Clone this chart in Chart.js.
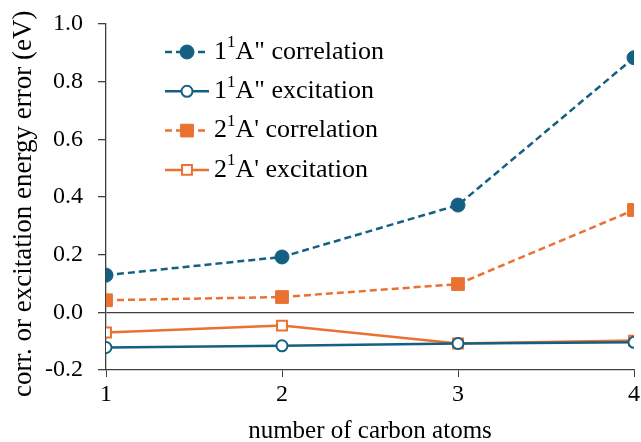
<!DOCTYPE html>
<html>
<head>
<meta charset="utf-8">
<script src="https://cdn.jsdelivr.net/npm/chart.js@4.4.1/dist/chart.umd.min.js"></script>
<style>
  html, body { margin: 0; padding: 0; background: #fff; }
  #wrap { width: 641px; height: 442px; }
</style>
</head>
<body>
<div id="wrap"><canvas id="myChart"></canvas></div>
<script>
// number of carbon atoms
var carbons = [1, 2, 3, 4];
// errors in eV
var corr1A2 = [0.129, 0.192, 0.372, 0.883];
var exc1A2  = [-0.122, -0.116, -0.108, -0.104];
var corr2A1 = [0.042, 0.053, 0.098, 0.355];
var exc2A1  = [-0.070, -0.046, -0.108, -0.098];
// legend labels: [number, superscript, rest]
var labels = [
  ['1', '1', 'A" correlation'],
  ['1', '1', 'A" excitation'],
  ['2', '1', "A' correlation"],
  ["2", '1', "A' excitation"]
];
var yTicks = [-0.2, 0, 0.2, 0.4, 0.6, 0.8, 1.0];

var BLUE = '#156082';
var ORANGE = '#E97132';
var FONT = '"Liberation Serif", "Times New Roman", serif';

function pts(ys) {
  return carbons.map(function (c, i) { return { x: c, y: ys[i] }; });
}

// legend drawn by hand so the superscripts and markers look like the original
const serifLegend = {
  id: 'serifLegend',
  afterDraw(chart) {
    var ctx = chart.ctx;
    chart.data.datasets.forEach(function (ds, i) {
      var y = 52 + i * 39.3;
      ctx.save();
      ctx.strokeStyle = ds.borderColor;
      ctx.lineWidth = ds.borderWidth;
      ctx.setLineDash(ds.borderDash || []);
      ctx.beginPath();
      ctx.moveTo(165, y);
      ctx.lineTo(209, y);
      ctx.stroke();
      ctx.setLineDash([]);
      var r = ds.pointRadius;
      ctx.fillStyle = ds.pointBackgroundColor;
      ctx.lineWidth = ds.pointBorderWidth;
      ctx.strokeStyle = ds.pointBorderColor;
      ctx.beginPath();
      if (ds.pointStyle === 'rect') {
        var s = r * Math.SQRT1_2;
        ctx.rect(187 - s, y - s, 2 * s, 2 * s);
      } else {
        ctx.arc(187, y, r, 0, Math.PI * 2);
      }
      ctx.fill();
      ctx.stroke();

      var parts = labels[i];
      ctx.fillStyle = '#000';
      ctx.textBaseline = 'middle';
      ctx.textAlign = 'left';
      var x = 214;
      ctx.font = '26px ' + FONT;
      ctx.fillText(parts[0], x, y);
      x += ctx.measureText(parts[0]).width;
      ctx.font = '17px ' + FONT;
      ctx.fillText(parts[1], x, y - 9);
      x += ctx.measureText(parts[1]).width;
      ctx.font = '26px ' + FONT;
      ctx.fillText(parts[2], x, y);
      ctx.restore();
    });
  }
};

var ctx = document.getElementById('myChart');
var myChart = new Chart(ctx, {
  type: 'line',
  data: {
    datasets: [
      {
        label: labels[0].join(''),
        data: pts(corr1A2),
        borderColor: BLUE,
        borderWidth: 2.5,
        borderDash: [7, 4],
        pointStyle: 'circle',
        pointRadius: 7,
        pointBackgroundColor: BLUE,
        pointBorderColor: BLUE,
        pointBorderWidth: 1,
        lineTension: 0
      }, // 1A" correlation
      {
        label: labels[1].join(''),
        data: pts(exc1A2),
        borderColor: BLUE,
        borderWidth: 2.5,
        pointStyle: 'circle',
        pointRadius: 5.5,
        pointBackgroundColor: '#fff',
        pointBorderColor: BLUE,
        pointBorderWidth: 2,
        lineTension: 0
      }, // 1A" excitation
      {
        label: labels[2].join(''),
        data: pts(corr2A1),
        borderColor: ORANGE,
        borderWidth: 2.5,
        borderDash: [7, 4],
        pointStyle: 'rect',
        pointRadius: 9,
        pointBackgroundColor: ORANGE,
        pointBorderColor: ORANGE,
        pointBorderWidth: 1,
        lineTension: 0
      }, // 2A' correlation
      {
        label: labels[3].join(''),
        data: pts(exc2A1),
        borderColor: ORANGE,
        borderWidth: 2.5,
        pointStyle: 'rect',
        pointRadius: 7,
        pointBackgroundColor: '#fff',
        pointBorderColor: ORANGE,
        pointBorderWidth: 2,
        lineTension: 0
      } // 2A' excitation
    ]
  },
  options: {
    responsive: true,
    maintainAspectRatio: false,
    animation: false,
    layout: { autoPadding: false, padding: { top: 24, right: 7, left: 0, bottom: 0 } },
    plugins: {
      legend: { display: false },
      tooltip: { enabled: false }
    },
    scales: {
      x: {
        type: 'linear',
        min: 1,
        max: 4,
        afterFit: function (s) { s.height = 72; },
        afterBuildTicks: function (s) { s.ticks = carbons.map(function (v) { return { value: v }; }); },
        grid: { drawOnChartArea: false, drawTicks: true, tickLength: 7, tickColor: '#404040' },
        border: { display: true, color: '#404040', width: 1.3 },
        ticks: { color: '#000', font: { family: FONT, size: 24, lineHeight: 1.5 }, padding: 0 },
        title: { display: true, text: 'number of carbon atoms', color: '#000', font: { family: FONT, size: 25 }, padding: { top: 0, bottom: -4 } }
      },
      y: {
        min: -0.2,
        max: 1.0,
        afterFit: function (s) { s.width = 106; s.paddingTop = 0; s.paddingBottom = 0; },
        afterBuildTicks: function (s) { s.ticks = yTicks.map(function (v) { return { value: v }; }); },
        grid: {
          drawOnChartArea: true,
          drawTicks: true,
          tickLength: 8,
          tickColor: '#404040',
          color: function (c) { return c.tick && c.tick.value === 0 ? '#404040' : 'rgba(0,0,0,0)'; },
          lineWidth: 1.3
        },
        border: { display: true, color: '#404040', width: 1.3 },
        ticks: {
          color: '#000',
          font: { family: FONT, size: 24 },
          padding: 15,
          callback: function (v) { return v.toFixed(1); }
        },
        title: { display: true, text: 'corr. or excitation energy error (eV)  ', color: '#000', font: { family: FONT, size: 27 }, padding: { top: 8, bottom: 0 } }
      }
    }
  },
  plugins: [serifLegend]
});
</script>
</body>
</html>
